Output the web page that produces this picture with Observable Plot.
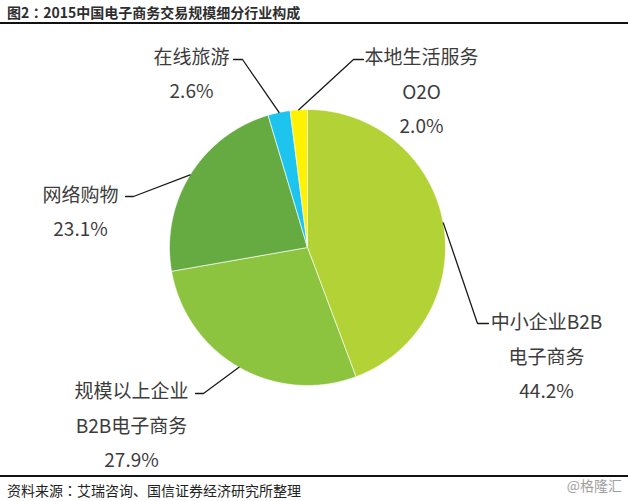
<!DOCTYPE html>
<html>
<head>
<meta charset="utf-8">
<script src="https://cdn.jsdelivr.net/npm/d3@7"></script>
<script src="https://cdn.jsdelivr.net/npm/@observablehq/plot@0.6"></script>
<style>
  html, body { margin: 0; padding: 0; background: #fff; }
  #wrap { position: relative; width: 628px; height: 501px; overflow: hidden; font-family: "Noto Sans CJK SC", "Noto Sans", sans-serif; }
  #title { position: absolute; left: 7px; top: 3px; font-size: 14px; font-weight: bold; color: #2e2e2e; line-height: 18px; white-space: nowrap; }
  #topline { position: absolute; left: 0; top: 22px; width: 628px; height: 0; border-top: 2px solid #111; }
  #chart { position: absolute; left: 0; top: 24px; }
  #botline { position: absolute; left: 0; top: 475px; width: 628px; height: 0; border-top: 2px solid #111; }
  #source { position: absolute; left: 7px; top: 481px; font-size: 14px; color: #222; line-height: 18px; white-space: nowrap; }
  #mark { position: absolute; right: 6px; top: 476px; font-size: 14px; color: #a0a0a0; line-height: 18px; white-space: nowrap; }
  .jp { font-family: "Noto Sans CJK JP", "Noto Sans CJK SC", sans-serif; }
</style>
</head>
<body>
<div id="wrap">
  <div id="title"></div>
  <div id="topline"></div>
  <div id="chart"></div>
  <div id="botline"></div>
  <div id="source"></div>
  <div id="mark"></div>
</div>
<script>
// ---- data ----
const title = "图2：2015中国电子商务交易规模细分行业构成";
const source = "资料来源：艾瑞咨询、国信证券经济研究所整理";
const watermark = "@格隆汇";
const categories = ["中小企业B2B电子商务", "规模以上企业B2B电子商务", "网络购物", "在线旅游", "本地生活服务O2O"];
const labelLines = [["中小企业B2B", "电子商务"], ["规模以上企业", "B2B电子商务"], ["网络购物"], ["在线旅游"], ["本地生活服务", "O2O"]];
const shares = [44.2, 27.9, 23.1, 2.6, 2.0];

// ---- style / layout ----
const colors = ["#b3d235", "#8cc43f", "#65ab41", "#1dc4ee", "#fff200"];
const W = 628, H = 451, cx = 307, cy = 223, R = 138;
// elbow point, tail length, label block centre (relative to pie centre, y up)
const layout = [
  {ex: 170, ey: -76, tail: 11, tx: 239, ty: -105},
  {ex: -104, ey: -146, tail: -8, tx: -176, ty: -174},
  {ex: -174, ey: 51, tail: -8, tx: -227, ty: 39.5},
  {ex: -65, ey: 188, tail: -9, tx: -116, ty: 177.5},
  {ex: 46, ey: 188, tail: 10, tx: 114, ty: 160}
];

// full-width colons rendered with centred glyph
function setText(id, s) {
  const el = document.getElementById(id);
  s.split("：").forEach((part, i) => {
    if (i > 0) { const sp = document.createElement("span"); sp.className = "jp"; sp.textContent = "："; el.appendChild(sp); }
    el.appendChild(document.createTextNode(part));
  });
}
setText("title", title);
setText("source", source);
document.getElementById("mark").textContent = watermark;

const arcs = d3.pie().sort(null).value(d => d)(shares);
const pt = (r, a) => ({x: r * Math.sin(a), y: r * Math.cos(a)});

const sliceMarks = arcs.map((a, i) => {
  const pts = [{x: 0, y: 0}];
  const n = Math.max(2, Math.ceil((a.endAngle - a.startAngle) / (Math.PI / 360)));
  for (let k = 0; k <= n; k++) pts.push(pt(R, a.startAngle + (a.endAngle - a.startAngle) * k / n));
  pts.push({x: 0, y: 0});
  return Plot.line(pts, {x: "x", y: "y", fill: colors[i], stroke: "#ffffff", strokeWidth: 0.8, strokeOpacity: 0.8, curve: "linear"});
});

const leaderMarks = arcs.map((a, i) => {
  const mid = (a.startAngle + a.endAngle) / 2;
  const L = layout[i];
  const p0 = pt(R, mid);
  const pts = [p0, {x: L.ex, y: L.ey}, {x: L.ex + L.tail, y: L.ey}];
  return Plot.line(pts, {x: "x", y: "y", stroke: "#1a1a1a", strokeWidth: 1.3});
});

const labels = categories.map((c, i) => ({
  x: layout[i].tx, y: layout[i].ty,
  text: [...labelLines[i], shares[i].toFixed(1) + "%"].join("\n")
}));

const chart = Plot.plot({
  width: W, height: H,
  margin: 0,
  x: {domain: [-cx, W - cx], range: [0, W], axis: null},
  y: {domain: [-(H - cy), cy], range: [H, 0], axis: null},
  style: {fontFamily: '"Noto Sans CJK SC", "Noto Sans", sans-serif', background: "transparent"},
  marks: [
    ...sliceMarks,
    ...leaderMarks,
    Plot.text(labels, {x: "x", y: "y", text: "text", fontSize: 19, fill: "#3c3c3c", lineHeight: 1.82, textAnchor: "middle"})
  ]
});
document.getElementById("chart").appendChild(chart);
</script>
</body>
</html>
